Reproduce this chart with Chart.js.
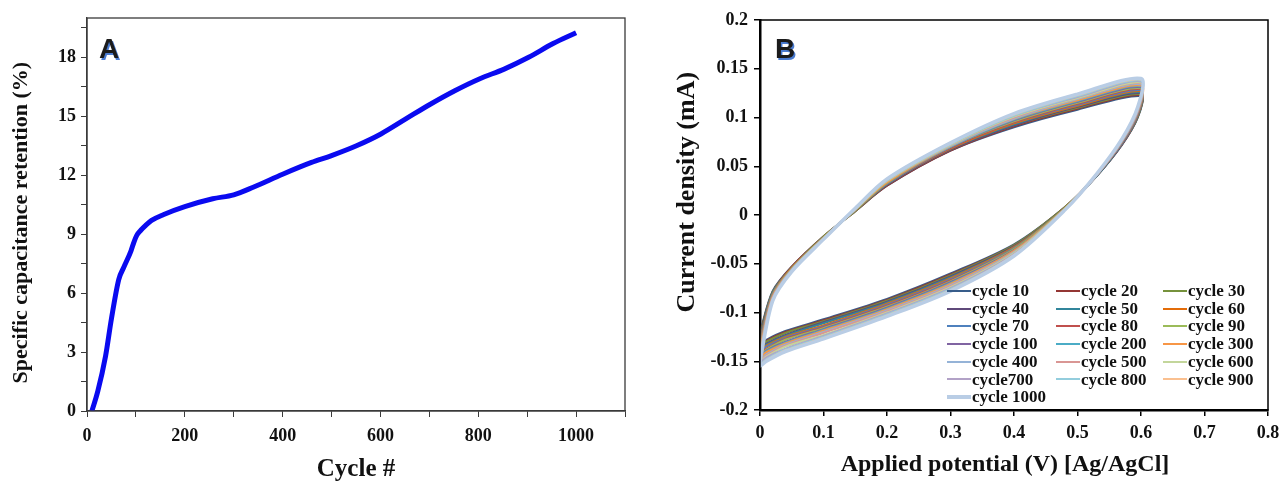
<!DOCTYPE html>
<html>
<head>
<meta charset="utf-8">
<title>Capacitance retention and CV cycles</title>
<script src="https://cdn.jsdelivr.net/npm/chart.js@4.4.0/dist/chart.umd.min.js"></script>
<style>
  html, body { margin: 0; padding: 0; background: #fff; }
  #wrap { position: relative; width: 1282px; height: 488px; overflow: hidden; }
  #chartA { position: absolute; left: 0; top: 0; }
  #chartB { position: absolute; left: 640px; top: 0; }
  #legendB {
    position: absolute; left: 947px; top: 282px;
    display: grid; grid-template-columns: 109px 107px 100px;
    font: bold 17px "Liberation Serif", "Times New Roman", serif;
    color: #111; line-height: 17.7px;
  }
  #legendB .item { display: flex; align-items: center; white-space: nowrap; }
  #legendB .sw { width: 24px; margin-right: 1px; }
</style>
</head>
<body>
<div id="wrap">
  <canvas id="chartA" width="640" height="488"></canvas>
  <canvas id="chartB" width="642" height="488"></canvas>
  <div id="legendB"></div>
</div>
<script>
// Panel A - specific capacitance retention vs cycle number
const cycleNumber = [10, 22, 38, 50, 65, 75, 90, 96, 102, 110, 120, 132, 157, 200, 257, 300, 341, 400,
                     459, 500, 551, 601, 651, 701, 752, 802, 853, 903, 953, 1000];
const capRetention = [0, 1.0, 2.8, 4.7, 6.7, 7.3, 8.15, 8.6, 8.95, 9.2, 9.45, 9.7, 10.0, 10.4, 10.8, 11.0, 11.4, 12.05,
                      12.65, 13.0, 13.5, 14.1, 14.85, 15.6, 16.3, 16.9, 17.4, 18.0, 18.7, 19.25];

// Panel B - CV loops, forward (anodic) and reverse (cathodic) sweeps
const potentialFwd = [0, 0.02, 0.05, 0.1, 0.15, 0.2, 0.3, 0.4, 0.5, 0.6];
const potentialRev = [0.595, 0.57, 0.53, 0.48, 0.4, 0.3, 0.2, 0.1, 0.04, 0.01, 0];

const cycleLabels = ['cycle 10', 'cycle 20', 'cycle 30', 'cycle 40', 'cycle 50', 'cycle 60',
                     'cycle 70', 'cycle 80', 'cycle 90', 'cycle 100', 'cycle 200', 'cycle 300',
                     'cycle 400', 'cycle 500', 'cycle 600', 'cycle700', 'cycle 800', 'cycle 900', 'cycle 1000'];

const cycleColors = ['#385D8A', '#943634', '#76923C', '#5F497A', '#31859B', '#E36C09',
                     '#4F81BD', '#C0504D', '#9BBB59', '#8064A2', '#4BACC6', '#F79646',
                     '#95B3D7', '#D99694', '#C3D69B', '#B2A2C7', '#93CDDD', '#FAC090', '#B9CDE5'];

// current (mA) on the forward sweep, one row per cycle
const anodicCurrent = [
  [-0.120, -0.078, -0.053, -0.022, 0.004, 0.030, 0.066, 0.090, 0.108, 0.122],
  [-0.122, -0.079, -0.053, -0.022, 0.004, 0.030, 0.066, 0.091, 0.109, 0.123],
  [-0.123, -0.079, -0.054, -0.022, 0.004, 0.031, 0.067, 0.092, 0.110, 0.124],
  [-0.125, -0.080, -0.054, -0.023, 0.005, 0.031, 0.067, 0.092, 0.111, 0.125],
  [-0.127, -0.080, -0.054, -0.023, 0.005, 0.032, 0.068, 0.093, 0.112, 0.126],
  [-0.128, -0.081, -0.054, -0.023, 0.005, 0.032, 0.068, 0.094, 0.112, 0.127],
  [-0.130, -0.081, -0.055, -0.023, 0.005, 0.032, 0.069, 0.095, 0.113, 0.128],
  [-0.132, -0.082, -0.055, -0.023, 0.005, 0.033, 0.069, 0.095, 0.114, 0.129],
  [-0.133, -0.082, -0.055, -0.023, 0.005, 0.033, 0.070, 0.096, 0.115, 0.130],
  [-0.135, -0.083, -0.056, -0.024, 0.006, 0.034, 0.070, 0.097, 0.116, 0.131],
  [-0.137, -0.084, -0.056, -0.024, 0.006, 0.034, 0.070, 0.098, 0.117, 0.132],
  [-0.138, -0.084, -0.056, -0.024, 0.006, 0.034, 0.071, 0.099, 0.118, 0.133],
  [-0.140, -0.085, -0.056, -0.024, 0.006, 0.035, 0.071, 0.099, 0.119, 0.134],
  [-0.142, -0.085, -0.057, -0.024, 0.006, 0.035, 0.072, 0.100, 0.120, 0.135],
  [-0.143, -0.086, -0.057, -0.024, 0.006, 0.035, 0.072, 0.101, 0.120, 0.136],
  [-0.145, -0.086, -0.057, -0.025, 0.007, 0.036, 0.073, 0.102, 0.121, 0.137],
  [-0.147, -0.087, -0.057, -0.025, 0.007, 0.036, 0.073, 0.102, 0.122, 0.138],
  [-0.148, -0.087, -0.058, -0.025, 0.007, 0.037, 0.074, 0.103, 0.123, 0.139],
  [-0.150, -0.088, -0.058, -0.025, 0.007, 0.037, 0.074, 0.104, 0.124, 0.140]
];

// current (mA) on the reverse sweep, one row per cycle
const cathodicCurrent = [
  [0.100, 0.072, 0.040, 0.008, -0.030, -0.060, -0.086, -0.107, -0.119, -0.128, -0.133],
  [0.101, 0.072, 0.040, 0.008, -0.031, -0.061, -0.087, -0.108, -0.120, -0.129, -0.134],
  [0.101, 0.073, 0.040, 0.008, -0.031, -0.062, -0.088, -0.109, -0.121, -0.130, -0.135],
  [0.102, 0.073, 0.040, 0.007, -0.032, -0.063, -0.089, -0.110, -0.123, -0.132, -0.137],
  [0.102, 0.073, 0.040, 0.007, -0.033, -0.064, -0.090, -0.111, -0.124, -0.133, -0.138],
  [0.103, 0.074, 0.041, 0.007, -0.033, -0.065, -0.091, -0.113, -0.125, -0.134, -0.139],
  [0.104, 0.074, 0.041, 0.007, -0.034, -0.066, -0.092, -0.114, -0.126, -0.135, -0.140],
  [0.104, 0.074, 0.041, 0.007, -0.035, -0.067, -0.093, -0.115, -0.127, -0.137, -0.142],
  [0.105, 0.075, 0.041, 0.007, -0.035, -0.068, -0.094, -0.116, -0.128, -0.138, -0.143],
  [0.105, 0.075, 0.041, 0.006, -0.036, -0.069, -0.095, -0.117, -0.130, -0.139, -0.144],
  [0.106, 0.075, 0.041, 0.006, -0.037, -0.070, -0.096, -0.118, -0.131, -0.140, -0.145],
  [0.107, 0.076, 0.041, 0.006, -0.037, -0.071, -0.097, -0.119, -0.132, -0.141, -0.146],
  [0.107, 0.076, 0.041, 0.006, -0.038, -0.072, -0.098, -0.120, -0.133, -0.143, -0.148],
  [0.108, 0.076, 0.041, 0.006, -0.039, -0.073, -0.099, -0.121, -0.134, -0.144, -0.149],
  [0.109, 0.077, 0.042, 0.006, -0.039, -0.074, -0.100, -0.123, -0.135, -0.145, -0.150],
  [0.109, 0.077, 0.042, 0.005, -0.040, -0.075, -0.101, -0.124, -0.137, -0.146, -0.151],
  [0.110, 0.077, 0.042, 0.005, -0.041, -0.076, -0.102, -0.125, -0.138, -0.148, -0.153],
  [0.110, 0.078, 0.042, 0.005, -0.041, -0.077, -0.103, -0.126, -0.139, -0.149, -0.154],
  [0.111, 0.078, 0.042, 0.005, -0.042, -0.078, -0.104, -0.127, -0.140, -0.150, -0.155]
];

const serif = '"Liberation Serif", "Times New Roman", serif';
const nb = '\u00A0';

// box around the plot area plus the panel letter
const framePlugin = {
  id: 'frame',
  afterDraw(chart, args, opts) {
    const { ctx, chartArea: a } = chart;
    ctx.save();
    ctx.strokeStyle = opts.color;
    ctx.lineWidth = opts.width;
    ctx.strokeRect(a.left, a.top, a.right - a.left, a.bottom - a.top);
    ctx.font = 'bold 28px "Liberation Sans", Arial, sans-serif';
    ctx.fillStyle = '#4a7bd0';
    ctx.fillText(opts.letter, opts.lx + 1.5, opts.ly + 1.5);
    ctx.fillStyle = '#1b1b1b';
    ctx.fillText(opts.letter, opts.lx, opts.ly);
    ctx.restore();
  }
};

// Panel A
new Chart(document.getElementById('chartA'), {
  type: 'line',
  data: {
    datasets: [{
      data: cycleNumber.map((c, i) => ({ x: c, y: capRetention[i] })),
      borderColor: '#0a0af0',
      borderWidth: 5,
      pointRadius: 0,
      cubicInterpolationMode: 'monotone',
      fill: false
    }]
  },
  options: {
    responsive: false,
    animation: false,
    layout: { padding: { left: 0, top: 18, right: 15, bottom: 0 } },
    plugins: {
      legend: { display: false },
      tooltip: { enabled: false },
      frame: { color: '#3a3a3a', width: 1.3, letter: 'A', lx: 99, ly: 58 }
    },
    scales: {
      x: {
        type: 'linear', min: 0, max: 1100,
        border: { color: '#3a3a3a', width: 1.3 },
        grid: { drawOnChartArea: false, color: '#3a3a3a', tickLength: 6 },
        ticks: {
          stepSize: 100, autoSkip: false, maxRotation: 0, padding: 9,
          color: '#111', font: { family: serif, weight: 'bold', size: 18 },
          callback: v => (v % 200 === 0 ? v : '')
        },
        title: {
          display: true, text: 'Cycle #', color: '#111',
          font: { family: serif, weight: 'bold', size: 25 }, padding: { top: 0, bottom: 3 }
        },
        afterFit: s => { s.height = 77; s.paddingLeft = 0; s.paddingRight = 0; }
      },
      y: {
        min: 0, max: 20,
        border: { color: '#3a3a3a', width: 1.3 },
        grid: { drawOnChartArea: false, color: '#3a3a3a', tickLength: 6 },
        ticks: {
          stepSize: 1.5, includeBounds: false, autoSkip: false, padding: 5,
          color: '#111', font: { family: serif, weight: 'bold', size: 18 },
          callback: v => (Math.abs(v % 3) < 1e-6 ? v : '')
        },
        title: {
          display: true, text: 'Specific capacitance retention (%)' + nb + nb + nb, color: '#111',
          font: { family: serif, weight: 'bold', size: 22 }, padding: { top: 8, bottom: 0 }
        },
        afterFit: s => { s.width = 87; s.paddingTop = 0; s.paddingBottom = 0; }
      }
    }
  },
  plugins: [framePlugin]
});

// Panel B
const cvDatasets = cycleLabels.map((label, k) => {
  const pts = [];
  potentialFwd.forEach((v, i) => pts.push({ x: v, y: anodicCurrent[k][i] }));
  potentialRev.forEach((v, i) => pts.push({ x: v, y: cathodicCurrent[k][i] }));
  pts.push({ x: potentialFwd[0], y: anodicCurrent[k][0] });
  return {
    label: label,
    data: pts,
    borderColor: cycleColors[k],
    borderWidth: label === 'cycle 1000' ? 3.5 : (label === 'cycle 300' ? 2.5 : 2),
    pointRadius: 0,
    tension: 0.3,
    fill: false,
    order: cycleLabels.length - k
  };
});

const chartB = new Chart(document.getElementById('chartB'), {
  type: 'line',
  data: { datasets: cvDatasets },
  options: {
    responsive: false,
    animation: false,
    layout: { padding: { left: 0, top: 20, right: 14, bottom: 0 } },
    plugins: {
      legend: { display: false },
      tooltip: { enabled: false },
      frame: { color: '#000', width: 1.5, letter: 'B', lx: 135, ly: 58 }
    },
    scales: {
      x: {
        type: 'linear', min: 0, max: 0.8,
        border: { color: '#000', width: 2.5 },
        grid: { drawOnChartArea: false, color: '#000', tickLength: 6, lineWidth: 1.5 },
        ticks: {
          stepSize: 0.1, autoSkip: false, maxRotation: 0, padding: 7,
          color: '#111', font: { family: serif, weight: 'bold', size: 18 },
          callback: v => String(+v.toFixed(1))
        },
        title: {
          display: true, text: 'Applied potential (V) [Ag/AgCl]' + nb + nb + nb, color: '#111',
          font: { family: serif, weight: 'bold', size: 24 }, padding: { top: 0, bottom: 9 }
        },
        afterFit: s => { s.height = 78; s.paddingLeft = 0; s.paddingRight = 0; }
      },
      y: {
        min: -0.2, max: 0.2,
        border: { color: '#000', width: 2.5 },
        grid: { drawOnChartArea: false, color: '#000', tickLength: 6, lineWidth: 1.5 },
        ticks: {
          stepSize: 0.05, autoSkip: false, padding: 6,
          color: '#111', font: { family: serif, weight: 'bold', size: 18 },
          callback: v => String(+v.toFixed(2) || 0)
        },
        title: {
          display: true, text: nb.repeat(7) + 'Current density (mA)', color: '#111',
          font: { family: serif, weight: 'bold', size: 26 }, padding: { top: 32, bottom: 0 }
        },
        afterFit: s => { s.width = 120; s.paddingTop = 0; s.paddingBottom = 0; }
      }
    }
  },
  plugins: [framePlugin]
});

// legend for panel B, three columns inside the plot
const legendBox = document.getElementById('legendB');
chartB.data.datasets.forEach(ds => {
  const item = document.createElement('div');
  item.className = 'item';
  const sw = document.createElement('span');
  sw.className = 'sw';
  sw.style.height = ds.borderWidth + 'px';
  sw.style.background = ds.borderColor;
  const txt = document.createElement('span');
  txt.textContent = ds.label;
  item.appendChild(sw);
  item.appendChild(txt);
  legendBox.appendChild(item);
});
</script>
</body>
</html>
